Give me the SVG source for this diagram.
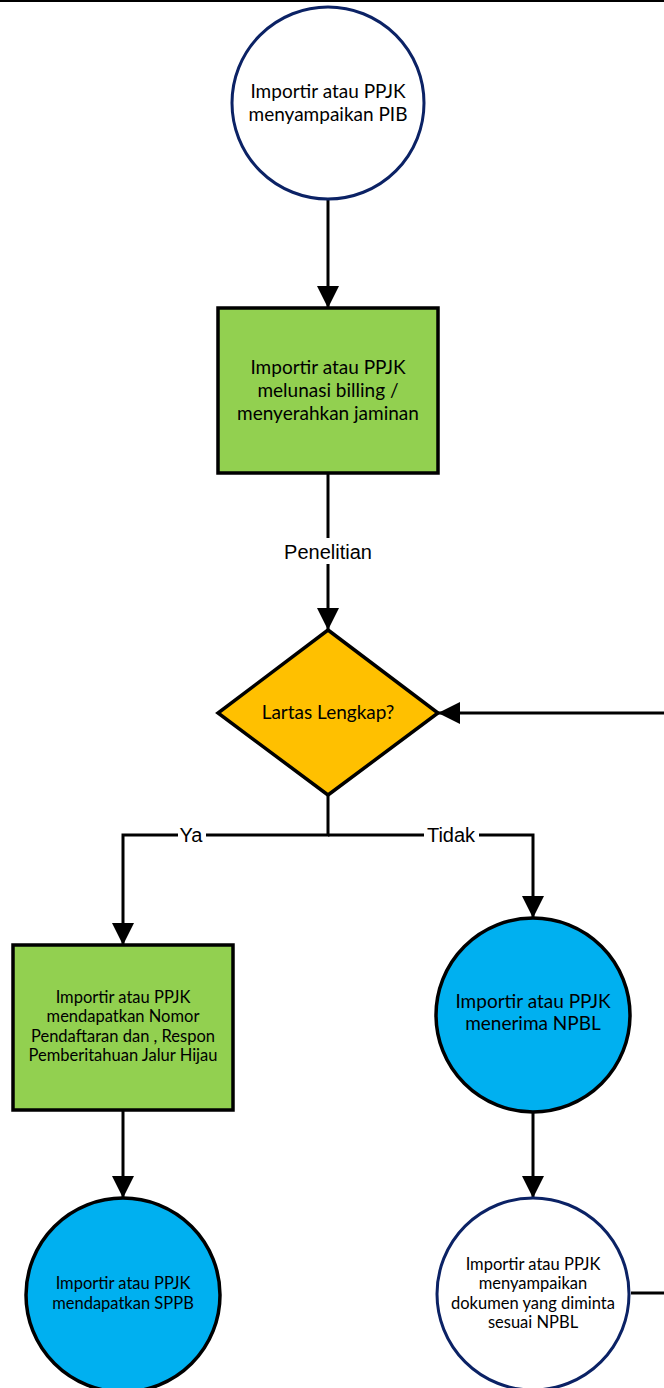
<svg xmlns="http://www.w3.org/2000/svg" width="664" height="1388" viewBox="0 0 664 1388">
<style>
.n{font-family:Lato,"Open Sans","Liberation Sans",sans-serif;fill:#000;text-anchor:middle}
.big{font-size:19px}
.sm{font-size:16.5px}
.lbl{font-family:"Liberation Sans",Arial,sans-serif;font-size:20px;fill:#000;text-anchor:middle}
.c{fill:none;stroke:#000;stroke-width:3}
.ok{fill:#fff;stroke:#0b2265;stroke-width:3}
.blue{fill:#00b0f0;stroke:#000;stroke-width:3.5}
.green{fill:#92d050;stroke:#000;stroke-width:3.5}
</style>
<defs>
<marker id="ah" markerUnits="userSpaceOnUse" markerWidth="22" markerHeight="22" refX="22" refY="11" orient="auto">
<path d="M0,0 L22,11 L0,22 Z" fill="#000"/>
</marker>
</defs>
<rect x="0" y="0" width="664" height="2" fill="#000"/>
<g id="connectors">
<path class="c" d="M328,200 V308" marker-end="url(#ah)"/>
<path class="c" d="M328,473 V630" marker-end="url(#ah)"/>
<path class="c" d="M664,713 H438" marker-end="url(#ah)"/>
<path class="c" d="M328,795 V835 H123 V945" marker-end="url(#ah)"/>
<path class="c" d="M328,835 H533 V918" marker-end="url(#ah)"/>
<path class="c" d="M123,1110 V1198" marker-end="url(#ah)"/>
<path class="c" d="M533,1111 V1198" marker-end="url(#ah)"/>
<path class="c" d="M631,1293 H664"/>
<rect x="280" y="538" width="96" height="26" fill="#fff"/>
<text class="lbl" x="328" y="559">Penelitian</text>
<rect x="178" y="825" width="28" height="20" fill="#fff"/>
<text class="lbl" x="191" y="842">Ya</text>
<rect x="424" y="825" width="55" height="20" fill="#fff"/>
<text class="lbl" x="451" y="842">Tidak</text>
</g>
<g id="start">
<circle class="ok" cx="328" cy="103" r="96"/>
<text class="n big" x="328" y="98">Importir atau PPJK</text>
<text class="n big" x="328" y="121">menyampaikan PIB</text>
</g>
<g id="billing">
<rect class="green" x="218" y="308" width="220" height="165"/>
<text class="n big" x="328" y="374">Importir atau PPJK</text>
<text class="n big" x="328" y="397">melunasi billing /</text>
<text class="n big" x="328" y="420">menyerahkan jaminan</text>
</g>
<g id="decision">
<path d="M328,630 L438,713 L328,795 L218,713 Z" fill="#ffc000" stroke="#000" stroke-width="3.5"/>
<text class="n big" x="328" y="719">Lartas Lengkap?</text>
</g>
<g id="hijau">
<rect class="green" x="13" y="945" width="220" height="165"/>
<text class="n sm" x="123" y="1003">Importir atau PPJK</text>
<text class="n sm" x="123" y="1022">mendapatkan Nomor</text>
<text class="n sm" x="123" y="1042">Pendaftaran dan , Respon</text>
<text class="n sm" x="123" y="1061">Pemberitahuan Jalur Hijau</text>
</g>
<g id="npbl">
<circle class="blue" cx="533" cy="1015" r="97"/>
<text class="n big" x="533" y="1008">Importir atau PPJK</text>
<text class="n big" x="533" y="1030">menerima NPBL</text>
</g>
<g id="sppb">
<circle class="blue" cx="123" cy="1295" r="97"/>
<text class="n sm" x="123" y="1289">Importir atau PPJK</text>
<text class="n sm" x="123" y="1309">mendapatkan SPPB</text>
</g>
<g id="dokumen">
<circle class="ok" cx="533" cy="1294" r="96"/>
<text class="n sm" x="533" y="1270">Importir atau PPJK</text>
<text class="n sm" x="533" y="1289">menyampaikan</text>
<text class="n sm" x="533" y="1309">dokumen yang diminta</text>
<text class="n sm" x="533" y="1328">sesuai NPBL</text>
</g>
</svg>
